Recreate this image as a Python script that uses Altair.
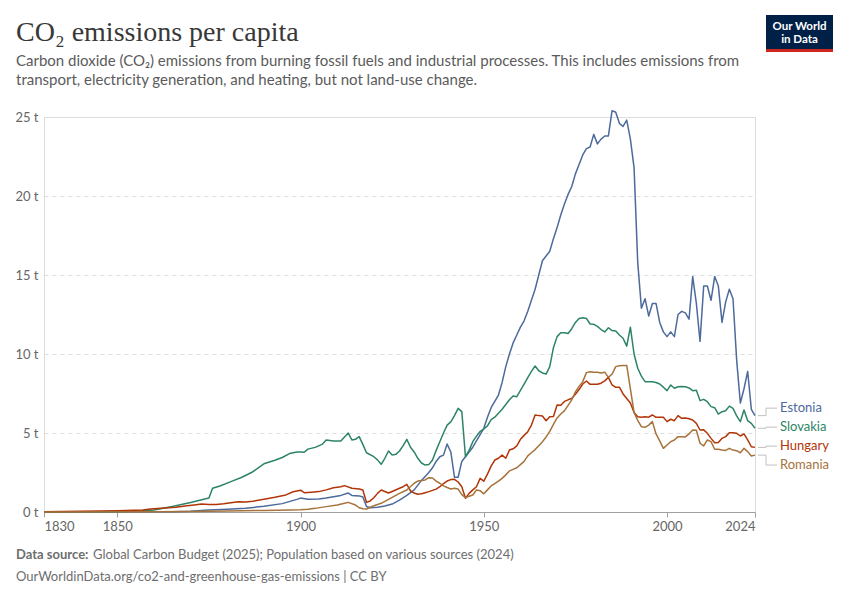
import altair as alt
import pandas as pd

# ---------------- data ----------------
countries = ["Estonia", "Slovakia", "Hungary", "Romania"]
colors = ["#4C6A9C", "#2C8465", "#B13507", "#A6733B"]

modern_years = list(range(1950, 2025))

estonia_years = [1830, 1850, 1865, 1870, 1875, 1880, 1885, 1890, 1895, 1899, 1900, 1902, 1905,
                 1907, 1909, 1911, 1913, 1914, 1916, 1917, 1918, 1919, 1921, 1923, 1925, 1927,
                 1929, 1931, 1933, 1935, 1936, 1937, 1938, 1939, 1940, 1941, 1942, 1943, 1944,
                 1945, 1946, 1947, 1948, 1949] + modern_years
estonia_values = [0.0, 0.01, 0.02, 0.04, 0.12, 0.18, 0.24, 0.36, 0.53, 0.8, 0.88, 0.8, 0.82,
                  0.88, 0.97, 1.05, 1.2, 1.05, 1.02, 0.95, 0.35, 0.27, 0.3, 0.38, 0.5, 0.75,
                  1.05, 1.4, 2.0, 2.5, 2.8, 3.2, 3.5, 3.6, 4.3, 3.8, 2.2, 2.2, 3.2,
                  3.5, 3.8, 4.1, 4.5, 4.9,
                  # 1950-2024
                  5.3, 6.0, 6.6, 7.0, 7.4, 8.2, 9.2, 10.0, 10.7, 11.2,
                  11.7, 12.1, 12.7, 13.4, 14.1, 15.0, 15.9, 16.2, 16.5, 17.3,
                  18.0, 18.8, 19.5, 20.1, 20.6, 21.4, 22.0, 22.6, 23.0, 23.1,
                  23.9, 23.3, 23.6, 23.8, 23.8, 25.4, 25.3, 24.6, 24.4, 24.8,
                  23.6, 21.8, 15.8, 12.9, 13.5, 12.4, 13.2, 13.2, 12.0, 11.4,
                  11.1, 11.4, 11.1, 12.5, 12.7, 12.6, 12.2, 14.9, 13.2, 10.8,
                  14.3, 14.3, 13.4, 14.9, 14.3, 12.0, 13.3, 14.1, 13.5, 9.6,
                  6.9, 7.8, 8.9, 6.5, 6.1]

slovakia_years = [1830, 1850, 1855, 1860, 1865, 1870, 1875, 1876, 1878, 1881, 1884, 1887, 1890,
                  1893, 1895, 1897, 1899, 1900, 1901, 1902, 1904, 1906, 1907, 1909, 1911, 1913,
                  1914, 1915, 1916, 1917, 1918, 1920, 1921, 1922, 1923, 1924, 1925, 1926, 1927,
                  1928, 1929, 1930, 1931, 1932, 1933, 1934, 1935, 1936, 1937, 1938, 1939, 1940,
                  1941, 1942, 1943, 1944, 1945, 1946, 1947, 1948, 1949] + modern_years
slovakia_values = [0.0, 0.02, 0.05, 0.12, 0.35, 0.6, 0.88, 1.5, 1.65, 1.92, 2.2, 2.55, 3.05,
                   3.28, 3.45, 3.7, 3.8, 3.8, 3.78, 3.98, 4.09, 4.3, 4.55, 4.5, 4.5, 5.0,
                   4.56, 4.6, 4.77, 4.28, 3.75, 3.5, 3.3, 3.02, 3.4, 3.86, 3.6, 3.65, 3.86,
                   4.2, 4.6, 4.1, 3.8, 3.4, 3.1, 2.97, 3.0, 3.29, 3.9, 4.45, 5.0, 5.5,
                   5.7, 6.1, 6.56, 6.35, 3.5, 3.9, 4.45, 4.8, 5.1,
                   # 1950-2024
                   5.25, 5.45, 5.85, 6.0, 6.25, 6.5, 6.8, 7.1, 7.34, 7.3,
                   7.7, 8.1, 8.5, 8.9, 9.24, 8.94, 8.8, 8.73, 9.2, 10.4,
                   11.1, 11.35, 11.35, 11.3, 11.6, 12.0, 12.25, 12.3, 12.25, 11.9,
                   11.88, 11.75, 11.55, 11.4, 11.66, 11.48, 11.45, 11.2, 11.0, 10.5,
                   11.7, 10.0, 9.1, 8.6, 8.25, 8.25, 8.25, 8.2, 8.1, 7.9,
                   7.68, 8.04, 7.83, 7.93, 7.95, 7.93, 7.85, 7.68, 7.7, 7.05,
                   7.13, 6.98, 6.67, 6.6, 6.2, 6.35, 6.41, 6.7, 6.56, 6.08,
                   5.72, 6.46, 5.78, 5.61, 5.3]

hungary_years = [1830, 1840, 1850, 1857, 1859, 1862, 1866, 1869, 1871, 1873, 1875, 1877, 1879,
                 1881, 1883, 1885, 1887, 1890, 1893, 1896, 1898, 1899, 1900, 1901, 1903, 1905,
                 1907, 1909, 1911, 1912, 1914, 1916, 1917, 1918, 1919, 1920, 1921, 1922, 1923,
                 1924, 1925, 1927, 1928, 1929, 1930, 1931, 1932, 1933, 1934, 1935, 1937, 1938,
                 1939, 1940, 1941, 1942, 1943, 1944, 1945, 1946, 1947, 1948, 1949] + modern_years
hungary_values = [0.02, 0.04, 0.08, 0.12, 0.19, 0.24, 0.3, 0.4, 0.45, 0.5, 0.47, 0.48, 0.52,
                  0.58, 0.65, 0.63, 0.68, 0.8, 0.93, 1.08, 1.28, 1.33, 1.38, 1.22, 1.25, 1.29,
                  1.4, 1.54, 1.6, 1.67, 1.5, 1.45, 1.39, 0.61, 0.7, 0.9, 1.18, 1.39, 1.3,
                  1.2, 1.3, 1.5, 1.6, 1.75, 1.33, 1.2, 1.12, 1.15, 1.22, 1.29, 1.45, 1.6,
                  1.8, 1.96, 2.05, 2.07, 1.9, 1.6, 0.87, 1.18, 1.4, 1.6, 2.13,
                  # 1950-2024
                  1.95, 2.4, 2.9, 3.29, 3.4, 3.6, 3.4, 3.92, 4.0, 4.18,
                  4.6, 4.85, 5.08, 5.5, 6.14, 6.1, 6.08, 5.78, 6.03, 6.05,
                  6.77, 6.75, 7.0, 7.1, 7.19, 7.45, 7.75, 8.1, 8.29, 8.08,
                  8.08, 8.08, 8.15, 8.3, 8.52, 8.04, 7.89, 7.9, 7.47, 7.19,
                  6.9, 6.3, 6.03, 6.0, 6.03, 6.0, 6.14, 5.99, 6.0, 5.99,
                  5.72, 5.87, 5.78, 6.1, 5.93, 5.95, 5.9, 5.82, 5.61, 5.19,
                  5.2, 4.98, 4.66, 4.39, 4.4, 4.66, 4.77, 5.02, 5.02, 4.98,
                  4.81, 4.94, 4.56, 4.13, 4.09]

romania_years = [1830, 1860, 1870, 1880, 1890, 1897, 1900, 1902, 1904, 1907, 1910, 1912, 1913,
                 1915, 1916, 1917, 1918, 1919, 1920, 1922, 1924, 1926, 1927, 1929, 1931, 1932,
                 1933, 1934, 1935, 1936, 1937, 1938, 1939, 1940, 1941, 1942, 1943, 1944, 1945,
                 1946, 1947, 1948, 1949] + modern_years
romania_values = [0.0, 0.01, 0.03, 0.06, 0.1, 0.13, 0.14, 0.17, 0.23, 0.34, 0.44, 0.55, 0.61,
                  0.44, 0.27, 0.2, 0.19, 0.3, 0.4, 0.55, 0.8, 1.05, 1.18, 1.39, 1.82, 1.96,
                  2.0, 2.03, 2.17, 2.15, 1.95, 1.82, 1.65, 1.55, 1.46, 1.5, 1.45, 1.1, 0.91,
                  1.0, 1.08, 1.39, 1.35,
                  # 1950-2024
                  1.15, 1.4, 1.65, 1.8, 1.95, 2.13, 2.35, 2.6, 2.7, 2.8,
                  3.0, 3.2, 3.55, 3.75, 3.95, 4.2, 4.45, 4.75, 5.1, 5.55,
                  5.95, 6.2, 6.4, 6.75, 7.1, 7.6, 7.95, 8.25, 8.82, 8.88,
                  8.85, 8.85, 8.8, 8.85, 8.52, 8.73, 9.2, 9.26, 9.27, 9.28,
                  7.8, 6.3, 5.8, 5.4, 5.36, 5.5, 5.72, 4.94, 4.5, 4.03,
                  4.24, 4.45, 4.56, 4.77, 4.77, 4.75, 4.94, 5.19, 5.17, 4.35,
                  4.18, 4.56, 4.45, 3.97, 3.97, 3.92, 3.9, 4.03, 3.92, 3.88,
                  3.75, 4.03, 3.82, 3.54, 3.6]

x_ticks = [1830, 1850, 1900, 1950, 2000, 2024]
y_ticks = [0, 5, 10, 15, 20, 25]

title_text = "CO\u2082 emissions per capita"
subtitle_lines = [
    "Carbon dioxide (CO\u2082) emissions from burning fossil fuels and industrial processes. This includes emissions from",
    "transport, electricity generation, and heating, but not land-use change.",
]
source_label = "Data source:"
source_text = "Global Carbon Budget (2025); Population based on various sources (2024)"
url_text = "OurWorldinData.org/co2-and-greenhouse-gas-emissions | CC BY"

# ---------------- build tables ----------------
series = {
    "Estonia": (estonia_years, estonia_values),
    "Slovakia": (slovakia_years, slovakia_values),
    "Hungary": (hungary_years, hungary_values),
    "Romania": (romania_years, romania_values),
}
rows = []
for c, (ys, vs) in series.items():
    assert len(ys) == len(vs), c
    for y, v in zip(ys, vs):
        rows.append({"country": c, "year": y, "value": v})
df = pd.DataFrame(rows)

# end labels, spread apart so they do not overlap
ends = [(c, series[c][1][-1]) for c in countries]
ends.sort(key=lambda t: -t[1])
pos = [v for _, v in ends]
sep = 1.2
for _ in range(200):
    for i in range(len(pos) - 1):
        gap = pos[i] - pos[i + 1]
        if gap < sep:
            d = (sep - gap) / 2
            pos[i] += d
            pos[i + 1] -= d
labels = pd.DataFrame({
    "country": [c for c, _ in ends],
    "end": [v for _, v in ends],
    "label_y": pos,
    "year": [series[c][0][-1] for c, _ in ends],
})

FONT = "Lato"
color_scale = alt.Scale(domain=countries, range=colors)

x_enc = alt.X(
    "year:Q",
    scale=alt.Scale(domain=[1830, 2024], nice=False, zero=False),
    axis=alt.Axis(values=x_ticks, format="d", labelFlush=True, grid=False,
                  domainColor="#a0a0a0", tickColor="#a0a0a0", tickSize=5,
                  labelFontSize=13, labelColor="#666666", labelFont=FONT,
                  labelPadding=3, title=None),
)
y_enc = alt.Y(
    "value:Q",
    scale=alt.Scale(domain=[0, 25], nice=False),
    axis=alt.Axis(values=y_ticks, labelExpr="datum.value + ' t'", grid=True,
                  gridDash=[4, 4], gridColor="#dddddd", domain=False, ticks=False,
                  labelPadding=6, labelFontSize=13, labelColor="#666666",
                  labelFont=FONT, title=None),
)

lines = alt.Chart(df).mark_line(strokeWidth=1.5, strokeJoin="round").encode(
    x=x_enc,
    y=y_enc,
    color=alt.Color("country:N", scale=color_scale, legend=None),
    detail="country:N",
)

conn_color = "#c0c0c0"
base_lab = alt.Chart(labels)
h1 = base_lab.mark_rule(color=conn_color, strokeWidth=1, xOffset=3, x2Offset=11).encode(
    x="year:Q", x2="year:Q", y="end:Q")
vseg = base_lab.mark_rule(color=conn_color, strokeWidth=1, xOffset=11).encode(
    x="year:Q", y="end:Q", y2="label_y:Q")
h2 = base_lab.mark_rule(color=conn_color, strokeWidth=1, xOffset=11, x2Offset=22).encode(
    x="year:Q", x2="year:Q", y="label_y:Q")
label_text = base_lab.mark_text(align="left", baseline="middle", dx=25, fontSize=13,
                                font=FONT).encode(
    x="year:Q", y="label_y:Q", text="country:N",
    color=alt.Color("country:N", scale=color_scale, legend=None))

one = alt.Data(values=[{}])
# plot origin sits at page (44, 117)
def txt(text, x, y, size, color, weight="normal", font=FONT, align="left"):
    return alt.Chart(one).mark_text(align=align, baseline="alphabetic", fontSize=size,
                                    font=font, fontWeight=weight, color=color).encode(
        x=alt.value(x), y=alt.value(y), text=alt.value(text))

title = txt(title_text, -28, -76, 28, "#383838", font="Liberation Serif")
sub1 = txt(subtitle_lines[0], -28, -51, 15, "#5b5b5b")
sub2 = txt(subtitle_lines[1], -28, -32, 15, "#5b5b5b")
foot1a = txt(source_label, -28, 442, 13, "#6e6e6e", weight="bold")
foot1b = txt(source_text, 49, 442, 13, "#6e6e6e")
foot2 = txt(url_text, -28, 464, 13, "#6e6e6e")

logo_box = alt.Chart(one).mark_rect(color="#002147").encode(
    x=alt.value(722), x2=alt.value(789), y=alt.value(-102), y2=alt.value(-68))
logo_bar = alt.Chart(one).mark_rect(color="#CE261E").encode(
    x=alt.value(722), x2=alt.value(789), y=alt.value(-68), y2=alt.value(-65))
logo1 = txt("Our World", 755.5, -87, 11.5, "white", weight="bold", align="center")
logo2 = txt("in Data", 755.5, -74, 11.5, "white", weight="bold", align="center")

chart = alt.layer(
    lines, h1, vseg, h2, label_text,
    title, sub1, sub2, foot1a, foot1b, foot2,
    logo_box, logo_bar, logo1, logo2,
).properties(
    width=711, height=395,
    padding={"left": 36, "top": 109, "right": 87, "bottom": 80},
    autosize=alt.AutoSizeParams(type="none"),
    background="white",
).configure_view(stroke=None).configure(font=FONT)

chart.save("out.html", embed_options={"renderer": "svg", "actions": False})
